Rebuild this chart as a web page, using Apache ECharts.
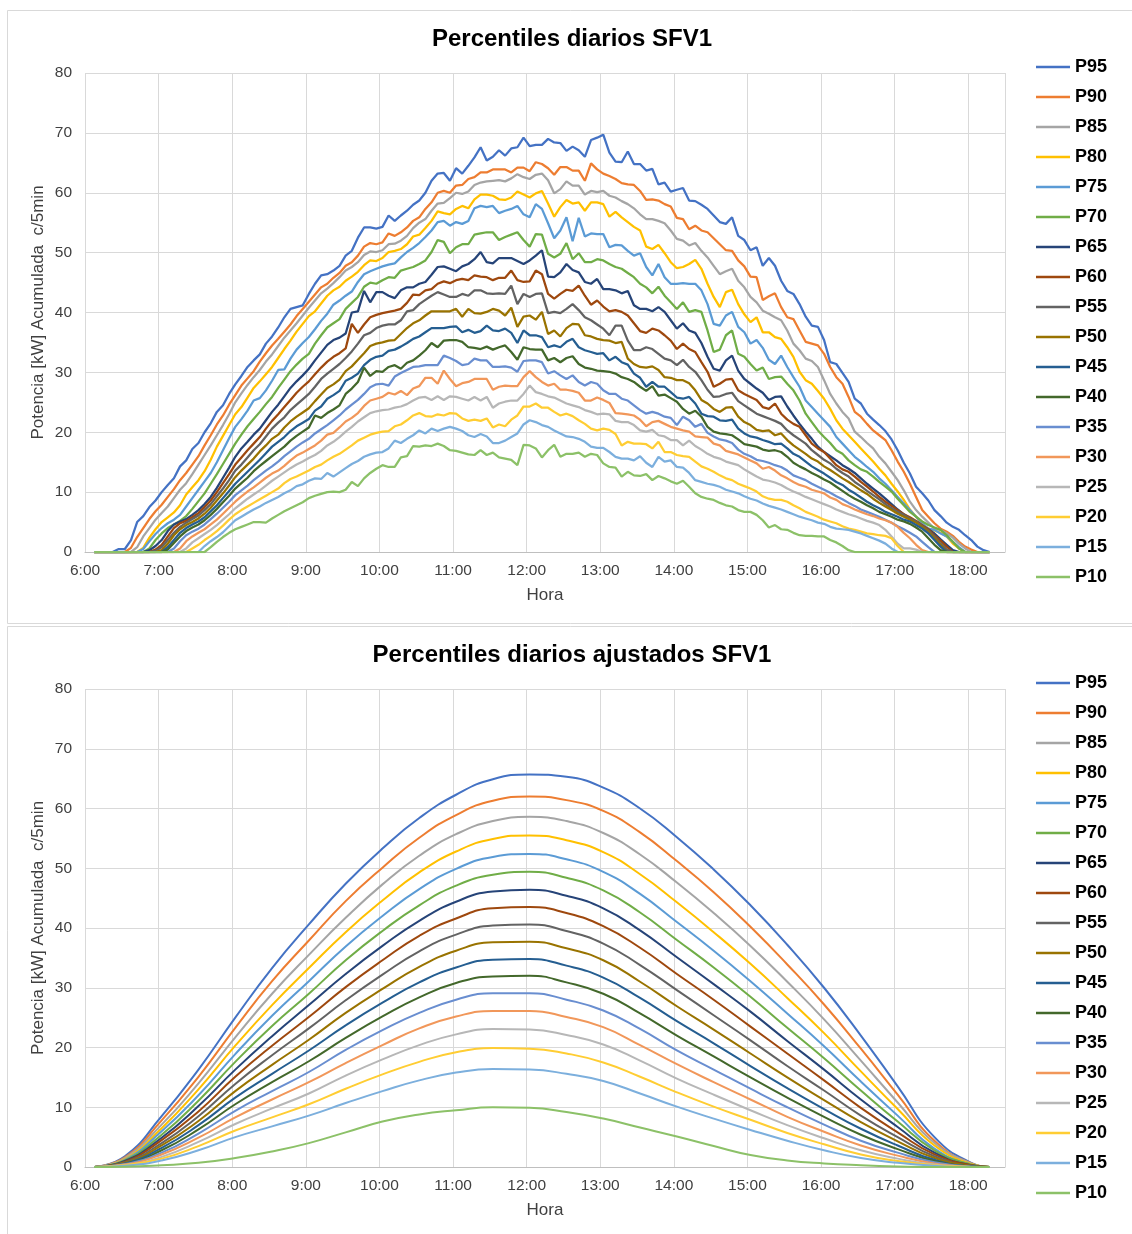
<!DOCTYPE html>
<html>
<head>
<meta charset="utf-8">
<title>Percentiles diarios SFV1</title>
<script src="https://cdn.jsdelivr.net/npm/echarts@6/dist/echarts.min.js"></script>
<style>
  html, body { margin: 0; padding: 0; background: #ffffff; }
  #chart { width: 1132px; height: 1234px; }
</style>
</head>
<body>
<div id="chart"></div>
<script>
// Percentile series names and their colours
const seriesNames = ['P95','P90','P85','P80','P75','P70','P65','P60','P55','P50','P45','P40','P35','P30','P25','P20','P15','P10'];
const seriesColors = ['#4472C4','#ED7D31','#A5A5A5','#FFC000','#5B9BD5','#70AD47','#264478','#9E480E','#636363',
                      '#997300','#255E91','#43682B','#698ED0','#F1975A','#B7B7B7','#FFCD33','#7CAFDD','#8CC168'];

// 5-minute slots from 6:00 to 18:25; hour labels every 12 slots
const slotStartMin = 360, slotStepMin = 5, slotCount = 150;
const hourLabelEvery = 12;

// Measured daily percentiles, kW per 5 min, 6:05 ... 18:15 (one row per hour)
const rawP95 = [
  0,0,0,0,0.5,0.5,2,5,6,7.5,8.6,
  10,11.2,12.3,14.3,15.3,17.2,18.2,20,21.5,23.4,24.5,26.4,
  28,29.4,30.9,32,33,34.8,36,37.5,39.2,40.6,40.9,41.2,
  43.1,44.8,46.2,46.4,47,47.8,49.5,50.3,52.5,54.2,54.2,54,
  54.3,56.2,55.3,56.2,57,58,58.7,60,62,63.2,63.3,62,
  64.1,63.2,64.5,65.9,67.6,65.4,66,67.1,66.2,67.4,67.6,69.2,
  67.8,68,68,69,68.4,68.3,67,67.7,67.1,66,68.8,69.2,
  69.7,66.7,65.2,65.1,66.9,64.8,64.8,63.7,64,61.4,61.7,60.2,
  60.5,60.8,58.7,58.6,58,57.3,56.2,55.1,54.8,55.9,52.8,52.1,
  50.4,50.9,47.8,49.1,47.8,45.3,43.6,43.1,41.4,39.3,37.8,37.6,
  35.4,31.7,31.4,29.9,28.4,25.6,24.8,23.1,22.1,21.2,20.2,18.8,
  17,14.9,13.1,10.9,9.8,8.6,7,6,4.9,4.2,3.7,2.8,
  2,0.9,0.3,0
];
const rawP90 = [
  0,0,0,0,0,0,0.7,2.5,4,5.5,6.8,
  7.9,9.2,10.5,12,13.2,14.6,16,17.8,19.5,21.3,22.8,24.6,
  26.2,27.8,29,30.2,31.8,33.2,34.5,35.6,36.8,38,39.4,40.6,
  41.8,43,44.2,44.8,45.8,46.6,47.8,48.4,49.5,51,51.6,51.4,
  51.7,53.2,52.8,53.4,54.2,55.3,55.9,57.3,58.4,60,60.3,60,
  61.2,61.3,62.3,62.6,63.4,63.4,63.9,63.9,63.9,63.4,64.2,64.2,
  63.6,65.1,64.8,64.1,63,64.3,64.3,63.7,63.7,62,64.9,63.9,
  63.2,62.8,62.3,61.6,61.4,61.3,60.3,58.8,58.9,58.7,58.1,57.7,
  55.8,55.6,53.9,54.5,53.7,53.4,52.4,51.4,50.4,50.3,48.7,47.7,
  46,45.9,42.1,42.7,43.2,40.9,39.2,38.9,37,35.1,34.8,34.5,
  33.1,30.9,29.2,28.1,25.9,23.4,22.6,21.4,20.3,19.5,18.7,17,
  15.1,13.4,11.4,9.2,7,5.9,4.8,3.9,3.4,2.7,1.7,0.9,
  0.4,0,0,0
];
const rawP85 = [
  0,0,0,0,0,0,0,0.8,2.6,4,5.4,
  6.5,7.6,9,10.4,11.5,13,14.6,16.2,17.8,19.5,21.2,23,
  25,26.5,27.9,29.2,30.4,31.8,33,34.4,35.8,37,38.2,39.5,
  40.8,42,43.2,44,44.9,45.9,47,47.6,48.4,49.6,50.2,50.1,
  50.4,51.4,51.5,52,52.8,54.1,55,55.6,57,58.2,58.3,59.1,
  60,59.8,60.2,61.3,61.7,61.9,62,62.1,61.9,62.4,63.1,62.6,
  62.3,63,63.2,62.1,59.9,60.6,61.9,61.2,61.2,59.7,60.3,60.1,
  60.3,59.5,59.2,58.6,58.1,57.4,56.4,55.6,55.6,55.3,54.9,53.7,
  52.3,52,51.2,51.6,50.3,49.2,47.8,46.4,46.9,47.3,45.3,44.2,
  42.6,41.7,40.3,39.8,39.2,38.7,37,34.8,33.7,32.3,31.9,30.9,
  28.7,26.4,24.8,23.4,22.3,20.1,19.2,18.2,17.3,15.9,14.8,13.4,
  12,10.3,8.4,7,5.9,4.9,3.9,3.7,3.1,2.4,1.4,0.6,
  0,0,0,0
];
const rawP80 = [
  0,0,0,0,0,0,0,0,0.7,2.4,3.8,
  5,5.8,6.6,7.8,9.6,10.8,12,13.5,15.4,17.6,19.4,21.2,
  23,24.2,25.8,27.4,28.5,29.7,30.9,32.4,33.9,35.3,36.8,38.1,
  39.4,40.2,41.5,42.8,43.7,44.3,45.3,46,46.8,47.9,48.7,48.6,
  49.1,50.1,50.3,50.6,51.4,52.7,53,54.1,55.3,56.9,56.6,56.4,
  57.3,57.8,57.4,58.9,59.7,59.7,59.5,58.9,58.8,59.2,60.2,59.7,
  59.2,59.9,60.3,58.2,56,57.6,58.8,58.2,58.4,57,58.4,58.4,
  58.1,56,56.8,55.9,55.1,54.3,53.7,51,50.6,51.3,49.9,48.4,
  47.4,47.6,48.1,48.8,47.3,44.8,42.6,40.9,43.4,43.8,41.4,39.7,
  38.4,39.2,36.7,36.7,35.9,35.6,34.2,32.6,30.1,28.7,28.1,26.9,
  25.6,23.9,22,20.6,19.5,18.4,17.3,16.2,15.1,13.9,12.8,11.4,
  10.1,8.7,7.1,5.9,4.5,3.9,3.6,3.2,2.6,1.4,0.6,0,
  0,0,0,0
];
const rawP75 = [
  0,0,0,0,0,0,0,0,0.5,1.8,3,
  4,4.8,5.4,6.2,7.6,9,10.4,11.8,13.2,15,17,19,
  20.9,22.2,23.6,25.3,25.7,27,28.6,30.4,30.5,32.3,33.8,34.9,
  35.9,37.2,38.6,39.8,41.3,42,42.8,43.5,45.1,46.4,46.9,47.3,
  47.7,48,48.2,49.2,50.1,50.8,51.6,52.6,53.7,55.1,55.3,54.5,
  55.1,54.8,55.3,57.4,57.8,57.6,57.8,56.6,57,57.3,57.8,56.4,
  55.9,58.1,57.3,54.9,52.4,53.7,55.9,51.9,55.8,52.7,53.2,53.1,
  53.1,50.9,51.3,51.2,50.3,49.5,49.9,47.6,46.2,48.1,45.9,44.8,
  44.8,44.9,44.8,44.8,43.7,41.4,38.1,37.8,39.5,40.1,37.6,36.7,
  34.8,35.4,34.1,32.1,31.4,32.8,30.9,29.2,27.6,25.3,24.2,23.1,
  22,20.9,19.2,18.1,17,15.9,15.1,14.2,13.4,12.3,11.4,10.3,
  9.2,8.1,7,5.9,4.8,3.9,3.7,3.1,2.6,1.7,0.8,0,
  0,0,0,0
];
const rawP70 = [
  0,0,0,0,0,0,0,0,0,0.6,2,
  3.1,4,4.6,5.2,6,7.2,8.5,9.8,11.4,13,14.7,16.4,
  18.1,19.6,21,22.2,23.4,24.7,25.9,27.4,28.8,30.2,31.3,32.3,
  33.1,34.8,36.2,37.5,38.2,38.9,40.6,41.6,42.6,44.3,45,44.8,
  45.4,45.9,45.8,47,47.3,47.6,48.1,48.7,50.1,52.1,51.8,49.9,
  50.9,51.4,51.4,53,53.2,53.4,53.4,52.1,52.6,53,53.4,52.1,
  51,53.1,53,49.8,49.2,49.8,51.6,48.9,49.9,48.4,48.4,48.9,
  48.7,48.1,47.6,47.3,46.6,45.9,44.8,44.2,43.2,44.3,42.8,41.7,
  40.6,41.7,40.1,40.4,40.1,37,33.4,33.8,36.2,37,33.1,32.6,
  31.4,30.3,30.8,28.9,29.2,29.3,28.1,27,25.3,23.1,21.7,20.3,
  19.2,18.2,17,16.4,15.3,14.5,13.8,13.4,12.6,11.7,10.9,10.1,
  8.9,7.8,6.7,5.9,5.1,4.5,4.1,3.7,2.8,1.7,0.6,0,
  0,0,0,0
];
const rawP65 = [
  0,0,0,0,0,0,0,0,0,0.3,1,
  2,3.5,4.6,5.1,5.5,6.2,7,8,9.2,10.7,12.4,14.1,
  15.9,17.3,18.4,19.6,20.6,22,23.4,24.6,26,27.4,28.5,29.5,
  30.6,32,33.3,34.6,35.4,35.8,36.5,40,40.2,43.6,41.7,43.4,
  43.4,42.8,42.4,43.7,44.2,44.2,44.8,45.1,46.3,47.6,47.7,47.3,
  46.9,47.7,48.1,48.9,50.1,48.4,48.2,49.1,49.1,49.1,48.6,48.1,
  48.7,49.5,50.4,46,45.9,46.7,48.1,47.1,46.7,45.1,44.8,45.6,
  43.9,43.9,43.7,43.2,43.6,41.2,40.6,40.6,40.2,40.9,40.1,38.7,
  37.3,38.2,37,36.6,34.9,32.6,30.6,30.3,32,32.8,30.3,28.9,
  28.1,27.3,26.6,25.4,25.9,26,24.3,22.8,21.4,20.1,18.9,17.6,
  16.7,16,15.3,14.5,13.9,13.2,12.3,11.4,10.6,9.8,8.9,8,
  7.1,6.3,5.6,5.1,4.3,3.8,3.1,2.1,1.2,0.3,0,0,
  0,0,0,0
];
const rawP60 = [
  0,0,0,0,0,0,0,0,0,0,0.4,
  1.2,2.6,4,4.8,5.2,5.8,6.5,7.5,8.6,10,11.5,13,
  14.6,15.8,17,18.1,19.2,20.6,21.9,23,24.2,25.4,26.6,27.6,
  28.5,29.7,30.8,31.8,32.6,33.2,34,38.1,36.6,38,39.2,39.6,
  39.9,40.1,40.3,40.6,41.6,43,42.9,43.7,43.9,44.8,45.2,44.9,
  45.4,45.6,45.4,46.2,46,45.9,45.4,45.8,45.8,47,45.4,45.1,
  45.2,47,46.4,43.1,42.3,43.1,43.8,43.6,44.5,42.8,41.3,42,
  41,40.2,40.4,40.1,39.5,38.2,36.9,36.6,37.3,37,36.2,35.3,
  33.9,34.8,33.9,33.4,31.7,30.1,27.6,28.1,28.8,28.9,27,26.4,
  25.9,25.4,24.2,23.9,24.8,23.1,22.1,21.4,20.9,19.5,18.1,17.3,
  16.7,15.6,14.5,13.8,13.4,12.6,11.7,10.9,10.1,9.2,8.4,7.7,
  7,6.3,5.8,5.2,4.5,3.8,2.8,1.9,0.9,0,0,0,
  0,0,0,0
];
const rawP55 = [
  0,0,0,0,0,0,0,0,0,0,0.2,
  0.8,2,3.2,4.2,4.9,5.5,6.1,7,8,9.3,10.6,12,
  13.6,14.6,15.8,17,18,19.3,20.6,21.6,22.5,23.7,24.6,25.5,
  26.4,27.6,28.9,29.8,30.6,31.4,32.4,33.5,34.8,36.2,36.6,37.4,
  37.8,38,38,38.7,40.2,40.4,41.4,42.1,42.8,43.4,43,42.6,
  42.6,43.1,42.8,43.7,43.7,43.2,43.1,43.2,43.1,44.5,41.4,43.1,
  42.6,43.1,43.2,39.9,40.1,39.9,40.6,41.4,40.4,39.2,38.7,38,
  37.3,36.2,37.8,37.8,35.3,33.7,33.7,34.2,33.9,33.1,32.3,32,
  31.2,32.1,30.9,30.1,28.7,27.1,25.9,26,26.4,26.6,25.2,24.5,
  23.8,23.1,22.7,22.3,21.9,21.4,20.3,19.5,18.8,18.1,17,16.2,
  15.4,14.8,13.9,13.2,12.6,11.7,11,10.2,9.5,8.8,8,7.3,
  6.7,6.2,5.6,5.1,4.3,3.6,2.6,1.4,0.4,0,0,0,
  0,0,0,0
];
const rawP50 = [
  0,0,0,0,0,0,0,0,0,0,0,
  0.3,1.4,2.8,3.8,4.5,5,5.6,6.4,7.4,8.6,9.8,11.1,
  12.5,13.6,14.6,15.6,16.8,17.8,18.9,19.6,20.8,21.8,22.6,23.3,
  24,25.2,26.3,27.4,28,28.8,30.2,31,32.1,33.2,34.4,34.8,
  35,35.3,35.4,36.4,37.4,38.2,38.7,39.5,40.2,40.2,40.2,40.2,
  40.6,39.3,40.6,39.9,39.8,40.1,40.6,40.3,39.5,40.8,37.6,39.3,
  39.5,38.8,40.1,36.4,37,36,37.4,38.1,38,36.2,36,35.6,
  35.4,35.3,34.9,35.1,32.3,31.4,30.9,30.8,31,30.4,29.2,29.1,
  28.7,28.7,28.2,27,25.4,24.8,23.9,23.4,24.1,24.2,22.6,21.7,
  21.2,20.4,20.2,20.3,19.5,19.8,18.7,17.8,17.1,16.4,15.6,15.1,
  14.3,13.7,13,12.3,11.7,11,10.3,9.7,8.9,8.2,7.6,7,
  6.4,5.9,5.4,4.9,4.2,3.4,2.3,1.2,0,0,0,0,
  0,0,0,0
];
const rawP45 = [
  0,0,0,0,0,0,0,0,0,0,0,
  0,0.8,2,3.2,4,4.6,5.1,5.8,6.8,7.8,9,10.2,
  11.4,12.4,13.4,14.4,15.4,16.5,17.6,18.4,19.2,20.2,21,21.6,
  22.2,23.6,24.3,25.6,26.2,26.9,28.6,29.1,29.8,31.2,32.1,32.6,
  32.8,33.6,33.8,34.3,34.9,35.6,36,36.7,37.4,37.4,37.4,37.6,
  37.7,36.7,37.1,36.6,36.9,37.8,37,36.9,37.3,36.6,34.9,37,
  36.2,36.2,35.9,34.2,34.5,34.2,35.1,35.6,34.2,33.7,33.4,33.1,
  33.2,32,32.6,31.7,31.3,29.8,29.1,27.6,28.4,27.6,27.6,26.7,
  25.8,25.6,25.9,24.8,23.1,22.7,22.6,22,21.9,22.1,20.6,19.8,
  19.3,19.1,18.7,18.4,18,18.1,17.3,16.4,15.9,15.1,14.3,13.7,
  13.1,12.4,11.7,11.2,10.4,9.8,9.1,8.4,7.8,7.3,6.7,6.3,
  5.9,5.4,5.1,4.5,3.9,3.1,2,0.9,0,0,0,0,
  0,0,0,0
];
const rawP40 = [
  0,0,0,0,0,0,0,0,0,0,0,
  0,0.4,1.5,2.6,3.5,4.1,4.6,5.3,6.2,7.2,8.3,9.4,
  10.6,11.5,12.4,13.5,14.4,15.2,16,16.8,17.6,18.6,19.4,20.1,
  20.8,22.8,22.4,23.2,23.8,24.5,26.4,27.3,28.4,30.8,29.4,30.2,
  30.1,30.9,31.2,30.6,31.6,32,32.8,33.7,34.9,34.2,35.3,35.4,
  35.4,35.1,34.2,34.1,33.9,34.3,33.8,34.2,34.5,33.4,32.1,34.2,
  33.9,33.8,33.8,32,32.4,31.7,32.4,32.7,31.4,30.8,30.6,30.3,
  30.2,30.1,29.8,29.2,28.9,28.4,27.6,26.9,27.7,26.1,26.3,25.7,
  25.1,23.9,23.1,23.6,22.6,20.9,20.1,19.8,19.7,19.5,18.8,18,
  17.8,17.6,17.1,16.9,17,16.7,15.9,14.9,14.3,13.8,13.2,12.7,
  12.1,11.6,10.9,10.2,9.5,8.9,8.4,7.8,7.3,6.7,6.3,5.9,
  5.4,5.1,4.7,4.1,3.4,2.3,1.2,0.3,0,0,0,0,
  0,0,0,0
];
const rawP35 = [
  0,0,0,0,0,0,0,0,0,0,0,
  0,0,0.6,1.8,2.8,3.4,3.9,4.6,5.5,6.4,7.4,8.4,
  9.5,10.3,11.1,12,12.8,13.6,14.3,15.1,16,16.8,17.6,18.3,
  18.9,19.8,20.5,21.2,22,22.8,23.8,24.6,25.4,26.4,27.5,28,
  28.1,27.8,29.3,29.9,30.4,30.9,31,31.2,31.2,31.2,32.8,32.4,
  31.9,31.2,31.4,32.3,32,32,30.9,30.9,31,30.8,30.1,31.9,
  32,32,31.7,29.8,30.2,29.5,28.9,29.5,28.4,27.8,28.4,28.1,
  27,26.4,26.4,25.6,25.3,24.5,23.7,23.1,23.4,23.1,22.6,22.4,
  21.2,22.6,22,20.9,21.4,19.9,19.3,18.8,18.6,18.2,17.1,16.4,
  16,15.4,15.2,14.9,14.5,14.2,13.6,12.8,12.4,12,11.4,10.9,
  10.4,9.9,9.3,8.8,8.2,7.7,7.1,6.7,6.3,5.9,5.4,4.9,
  4.3,3.8,3.2,2.6,1.7,0.8,0,0,0,0,0,0,
  0,0,0,0
];
const rawP30 = [
  0,0,0,0,0,0,0,0,0,0,0,
  0,0,0,0.6,1.8,2.6,3.2,3.8,4.6,5.4,6.4,7.4,
  8.4,9.3,10.1,10.8,11.6,12.4,13.1,13.6,14.4,15.3,16.1,16.6,
  17.2,17.8,18.6,19.6,19.9,20.8,21.8,22.4,23.2,24.4,25.3,25.6,
  25.9,26.6,26.3,26.9,26.2,27.3,27.7,29.1,29.1,28.1,30.3,28.9,
  27.7,28.2,28.4,28.9,28.9,28.9,27.1,27.6,27.8,27.7,27.7,29.2,
  30.2,29.2,28.4,27.8,28.1,27.1,27.1,26.9,26.6,25.3,25.3,25.8,
  25.4,24.9,23.2,23.1,23,22.8,22.1,21,21.7,21.9,21.4,20.9,
  20.6,20.3,20.1,19.3,19.2,19.1,18.1,17.8,16.9,16.6,16.3,15.8,
  15.3,14.8,13.9,14.2,13.6,12.8,12.3,11.7,11.2,10.9,10.4,10.1,
  9.8,9.1,8.7,8,7.6,7.1,6.7,6.3,6,5.6,5.3,4.9,
  4.2,3.2,2.3,1.2,0.3,0,0,0,0,0,0,0,
  0,0,0,0
];
const rawP25 = [
  0,0,0,0,0,0,0,0,0,0,0,
  0,0,0,0,0.6,1.6,2.3,3,3.7,4.5,5.4,6.3,
  7.3,8.1,8.9,9.6,10.3,11.1,11.9,12.6,13.3,14,14.6,15.1,
  15.7,16.2,16.9,17.8,18.4,19.2,20.1,20.9,21.8,22.5,23.2,23.5,
  23.7,23.8,24.1,24.3,24.7,25.3,25.8,25.9,25.4,26,25.4,26,
  25.9,25.6,25.3,25.9,25.3,25.9,24.1,24.8,25.1,25.3,25.3,26.4,
  27.8,26.7,26.4,26,25.8,25.3,24.8,24.5,24.2,23.7,23.4,23,
  23.1,23,21.9,21.7,21.7,21.2,20.3,20.1,20.4,19.5,19.3,18.7,
  18.7,17.8,18.6,17.7,17.1,16.4,15.9,15.6,15.1,14.8,14.5,13.8,
  13.2,12.6,12.1,11.9,11.6,11.2,10.6,10.1,9.7,9.2,8.8,8.4,
  8,7.6,7.1,6.7,6.3,6,5.6,5.2,4.9,4.5,3.7,2.6,
  1.4,0.6,0.6,0.4,0,0,0,0,0,0,0,0,
  0,0,0,0
];
const rawP20 = [
  0,0,0,0,0,0,0,0,0,0,0,
  0,0,0,0,0,0.6,1.2,2,2.7,3.5,4.4,5.4,
  6.3,7,7.6,8.2,8.8,9.4,10,10.6,11.5,12.2,12.6,13.1,
  13.6,14.2,14.6,15.3,15.9,16.4,17.1,17.8,18.6,19.1,19.6,19.9,
  20.1,20.2,21,21.3,22,22.8,23.2,22.7,22.6,23,22.8,23.2,
  23.1,22.3,21.9,22.1,21.9,22.3,20.8,21.3,21,22.1,22.8,24.3,
  24.3,24.8,24.1,24.1,23.4,22.8,23.1,22.7,22,21.4,20.6,20.3,
  20.6,20.4,19.7,17.8,18.4,18.1,18.1,18,17.3,18.4,16.7,16.7,
  16.2,16,15.9,15.1,14.3,13.9,13.4,12.8,12.3,12,11.4,11,
  10.6,10.1,9.3,8.9,8.7,8.7,8.4,7.8,7.3,6.7,6.3,5.9,
  5.4,5.1,4.8,4.3,3.9,3.7,3.4,3.1,3,2.8,2.7,2.3,
  1,0,0,0,0,0,0,0,0,0,0,0,
  0,0,0,0
];
const rawP15 = [
  0,0,0,0,0,0,0,0,0,0,0,
  0,0,0,0,0,0,0,1,1.8,2.5,3.3,4.3,
  5.3,5.9,6.5,7.1,7.6,8.2,8.7,9.2,9.8,10.3,11,11.3,
  11.9,12.3,12.2,13.2,12.6,13.3,14,14.7,15.2,15.9,16.3,16.6,
  16.7,17.3,18.6,18.2,18.9,19.5,20.3,19.8,20.6,20.2,20.6,20.9,
  20.6,20.2,19.5,19.2,19.7,19.3,18.2,18.2,18.6,19.2,19.8,21.3,
  22,21.7,21.2,20.9,20.3,19.8,19.3,19.2,18.9,18.4,17.6,17.4,
  17.4,16.7,15.9,15.6,15.6,15.3,16,14.9,14.2,15.9,15.1,15.3,
  14.2,14.1,13.2,12,11.7,11.4,11.2,10.9,10.4,10.1,9.8,9.3,
  8.9,8.6,8.1,7.7,7.4,7.1,6.7,6.3,5.9,5.6,5.3,4.9,
  4.7,4.2,3.9,3.8,3.7,3.4,3.1,2.7,2.3,1.9,1.4,0.6,
  0,0,0,0,0,0,0,0,0,0,0,0,
  0,0,0,0
];
const rawP10 = [
  0,0,0,0,0,0,0,0,0,0,0,
  0,0,0,0,0,0,0,0,0.8,1.7,2.5,3.2,
  3.8,4.2,4.6,5,5,4.9,5.6,6.2,6.8,7.3,7.8,8.3,
  9,9.4,9.7,10,10.1,10,10.4,11.7,11,12.3,13.2,13.9,
  14.5,14.2,14.2,15.8,16,17.7,17.6,17.8,17.7,18.1,17.7,17,
  16.9,16.6,16.3,16.2,17,16.2,16.6,15.8,15.6,15.4,14.5,17.9,
  17.8,17.3,15.8,17,17.9,15.9,16.4,16.4,16.6,15.9,16.4,16.2,
  14.8,14.2,14.1,12.6,13.4,12.8,12.7,13,12,12.7,12.3,11.8,
  11.4,11.9,10.9,9.8,9.2,8.9,8.7,8.2,7.8,7.6,7,6.7,
  6.7,6.2,5.3,4.1,4.5,3.8,3.7,3.2,2.8,2.7,2.7,2.6,
  2.6,2,1.6,1,0.3,0,0,0,0,0,0,0,
  0,0,0,0,0,0,0,0,0,0,0,0,
  0,0,0,0
];

// Fitted (adjusted) percentile curves, sampled every half hour
const fitTimes = ['6:05','6:30','7:00','7:30','8:00','8:30','9:00','9:30','10:00','10:30','11:00','11:30','12:00',
                  '12:30','13:00','13:30','14:00','14:30','15:00','15:30','16:00','16:30','17:00','17:30','18:00','18:15'];
const fitP95 = [0,1.8,8.5,16.3,25,33.3,40.6,47.4,53.3,58.4,62.3,64.9,65.7,65.3,63.5,60,55.2,49.8,43.8,37.2,30,22,13.5,5,0.7,0];
const fitP90 = [0,1.6,7.8,15.1,23.3,31.1,37.9,44.5,50.1,55.1,58.9,61.3,62.0,61.4,59.6,56.0,51.2,46.0,40.2,33.9,27.2,19.8,12.1,4.4,0.6,0];
const fitP85 = [0,1.5,7.1,14.0,21.7,29.0,35.5,41.7,47.3,52.1,55.7,57.9,58.6,57.9,55.9,52.3,47.6,42.5,37.0,31.0,24.7,17.8,10.8,4.0,0.6,0];
const fitP80 = [0,1.3,6.5,13.0,20.3,27.1,33.3,39.3,44.6,49.3,52.8,54.9,55.5,54.7,52.7,49.0,44.3,39.3,34.0,28.3,22.4,16.0,9.7,3.6,0.5,0];
const fitP75 = [0,1.2,6.0,12.0,18.9,25.3,31.1,36.9,42.0,46.5,49.9,51.9,52.4,51.5,49.4,45.7,41.0,36.2,31.1,25.7,20.2,14.3,8.6,3.1,0.4,0];
const fitP70 = [0,1.1,5.4,11.1,17.6,23.6,29.0,34.6,39.5,43.8,47.1,48.9,49.4,48.4,46.3,42.6,38.0,33.4,28.5,23.3,18.2,12.8,7.6,2.8,0.4,0];
const fitP65 = [0,1.0,4.9,10.2,16.3,21.9,27.1,32.3,37.0,41.2,44.4,46.1,46.4,45.4,43.3,39.6,35.1,30.6,26.0,21.1,16.3,11.3,6.7,2.4,0.3,0];
const fitP60 = [0,0.9,4.5,9.3,15.1,20.3,25.1,30.1,34.6,38.7,41.6,43.3,43.5,42.5,40.3,36.7,32.3,28.0,23.5,19.0,14.5,9.9,5.8,2.1,0.3,0];
const fitP55 = [0,0.8,4.0,8.5,13.9,18.7,23.2,27.9,32.2,36.1,38.9,40.4,40.6,39.5,37.4,33.8,29.6,25.4,21.2,16.9,12.8,8.6,5.0,1.8,0.2,0];
const fitP50 = [0,0.7,3.6,7.7,12.7,17.1,21.3,25.8,29.8,33.5,36.2,37.6,37.7,36.6,34.6,31.0,26.9,23.0,19.0,15.0,11.2,7.5,4.3,1.5,0.2,0];
const fitP45 = [0,0.6,3.2,7.0,11.6,15.6,19.5,23.7,27.5,30.9,33.4,34.7,34.8,33.7,31.7,28.3,24.4,20.7,16.9,13.2,9.7,6.4,3.6,1.2,0.1,0];
const fitP40 = [0,0.5,2.8,6.3,10.5,14.2,17.7,21.6,25.2,28.4,30.8,31.9,32.0,30.9,29.0,25.7,22.0,18.5,15.0,11.6,8.4,5.4,3.0,1.0,0.1,0];
const fitP35 = [0,0.5,2.4,5.6,9.4,12.7,15.9,19.6,22.9,25.8,28.0,29.1,29.1,28.0,26.2,23.1,19.5,16.3,13.1,10.0,7.1,4.4,2.4,0.8,0.1,0];
const fitP30 = [0,0.4,2.1,4.9,8.3,11.3,14.2,17.4,20.4,23.2,25.2,26.1,26.1,25.1,23.4,20.4,17.2,14.2,11.3,8.4,5.9,3.6,1.9,0.6,0,0];
const fitP25 = [0,0.3,1.7,4.2,7.2,9.8,12.3,15.3,18.0,20.4,22.2,23.1,23.0,22.1,20.5,17.8,14.8,12.1,9.5,7.0,4.8,2.8,1.4,0.4,0,0];
const fitP20 = [0,0.3,1.4,3.5,6.1,8.3,10.5,13.1,15.5,17.6,19.2,19.9,19.8,19.0,17.5,15.1,12.5,10.1,7.9,5.7,3.8,2.1,1.0,0.3,0,0];
const fitP15 = [0,0.2,1.1,2.8,5.0,6.8,8.6,10.7,12.7,14.5,15.8,16.4,16.3,15.6,14.4,12.3,10.1,8.1,6.2,4.4,2.8,1.5,0.7,0.2,0,0];
const fitP10 = [0,0.05,0.3,0.7,1.5,2.6,4.0,5.8,7.6,8.8,9.5,10,9.9,9.2,8.1,6.6,5.1,3.5,2.0,1.1,0.6,0.3,0.1,0,0,0];

// Y-axis scale (kW per 5 min)
const yMin = 0, yMax = 80, yStep = 10;

const rawSets = [rawP95,rawP90,rawP85,rawP80,rawP75,rawP70,rawP65,rawP60,rawP55,rawP50,rawP45,rawP40,rawP35,rawP30,rawP25,rawP20,rawP15,rawP10];
const fitSets = [fitP95,fitP90,fitP85,fitP80,fitP75,fitP70,fitP65,fitP60,fitP55,fitP50,fitP45,fitP40,fitP35,fitP30,fitP25,fitP20,fitP15,fitP10];

// Category labels for every 5-minute slot
const slots = [];
for (let i = 0; i < slotCount; i++) {
  const m = slotStartMin + i * slotStepMin;
  slots.push(Math.floor(m / 60) + ':' + String(m % 60).padStart(2, '0'));
}

// Measured rows start at 6:05; place them on the slot axis
function onSlots(values, firstSlot) {
  const out = new Array(slotCount).fill(null);
  values.forEach((v, j) => { out[firstSlot + j] = v; });
  return out;
}
function fitOnSlots(values) {
  const out = new Array(slotCount).fill(null);
  fitTimes.forEach((t, j) => { out[slots.indexOf(t)] = values[j]; });
  return out;
}

const FONT = "'Liberation Sans', Arial, Helvetica, sans-serif";
const TEXT = '#404040';
const GRID_LINE = '#d9d9d9';

function xAxisFor(gridIndex) {
  return {
    type: 'category', gridIndex, data: slots, boundaryGap: true,
    axisLine: { show: true, lineStyle: { color: '#bfbfbf', width: 1 } },
    axisTick: { show: false, interval: hourLabelEvery - 1 },
    axisLabel: { interval: hourLabelEvery - 1, color: TEXT, fontSize: 15.5, fontFamily: FONT,
                 margin: 11, padding: [0, 6, 0, 0] },
    splitLine: { show: true, interval: hourLabelEvery - 1, lineStyle: { color: GRID_LINE, width: 1 } },
    name: 'Hora', nameLocation: 'middle', nameGap: 35,
    nameTextStyle: { fontSize: 17, color: TEXT, fontFamily: FONT }
  };
}
function yAxisFor(gridIndex) {
  return {
    type: 'value', gridIndex, min: yMin, max: yMax, interval: yStep,
    axisLine: { show: false }, axisTick: { show: false },
    axisLabel: { color: TEXT, fontSize: 15.5, fontFamily: FONT, margin: 13 },
    splitLine: { show: true, lineStyle: { color: GRID_LINE, width: 1 } },
    name: 'Potencia [kW] Acumulada  c/5min', nameLocation: 'middle', nameGap: 38, nameRotate: 90,
    nameMoveOverlap: false,
    nameTextStyle: { fontSize: 17, color: TEXT, fontFamily: FONT }
  };
}
function legendFor(top) {
  return {
    orient: 'vertical', left: 1036, top, padding: 0,
    icon: 'rect', itemWidth: 34, itemHeight: 2.5, itemGap: 12,
    data: seriesNames, selectedMode: false,
    textStyle: { fontSize: 18, fontWeight: 'bold', color: '#000', fontFamily: FONT }
  };
}

const series = [];
seriesNames.forEach((name, k) => {
  series.push({
    name, type: 'line', xAxisIndex: 0, yAxisIndex: 0,
    data: onSlots(rawSets[k], 1),
    symbol: 'none', smooth: false,
    lineStyle: { width: 2.25, color: seriesColors[k] }, itemStyle: { color: seriesColors[k] },
    emphasis: { disabled: true }
  });
});
seriesNames.forEach((name, k) => {
  series.push({
    name, type: 'line', xAxisIndex: 1, yAxisIndex: 1,
    data: fitOnSlots(fitSets[k]), connectNulls: true,
    symbol: 'none', smooth: 0.5,
    lineStyle: { width: 2, color: seriesColors[k] }, itemStyle: { color: seriesColors[k] },
    emphasis: { disabled: true }
  });
});

const chart = echarts.init(document.getElementById('chart'), null, { renderer: 'canvas' });
chart.setOption({
  animation: false,
  backgroundColor: '#ffffff',
  textStyle: { fontFamily: FONT },
  title: [
    { text: 'Percentiles diarios SFV1', left: 572, top: 27, textAlign: 'center', padding: 0,
      textStyle: { fontSize: 24, fontWeight: 'bold', color: '#000', fontFamily: FONT } },
    { text: 'Percentiles diarios ajustados SFV1', left: 572, top: 643, textAlign: 'center', padding: 0,
      textStyle: { fontSize: 24, fontWeight: 'bold', color: '#000', fontFamily: FONT } }
  ],
  legend: [legendFor(58), legendFor(674)],
  grid: [
    { left: 85, top: 73, width: 920, height: 479, outerBoundsMode: 'none', containLabel: false },
    { left: 85, top: 689, width: 920, height: 478, outerBoundsMode: 'none', containLabel: false }
  ],
  xAxis: [xAxisFor(0), xAxisFor(1)],
  yAxis: [yAxisFor(0), yAxisFor(1)],
  graphic: [
    { type: 'rect', silent: true, z: -10, shape: { x: 7.5, y: 10.5, width: 1130, height: 613 },
      style: { fill: 'none', stroke: '#d9d9d9', lineWidth: 1 } },
    { type: 'rect', silent: true, z: -10, shape: { x: 7.5, y: 626.5, width: 1130, height: 620 },
      style: { fill: 'none', stroke: '#d9d9d9', lineWidth: 1 } }
  ],
  series
});
</script>
</body>
</html>
